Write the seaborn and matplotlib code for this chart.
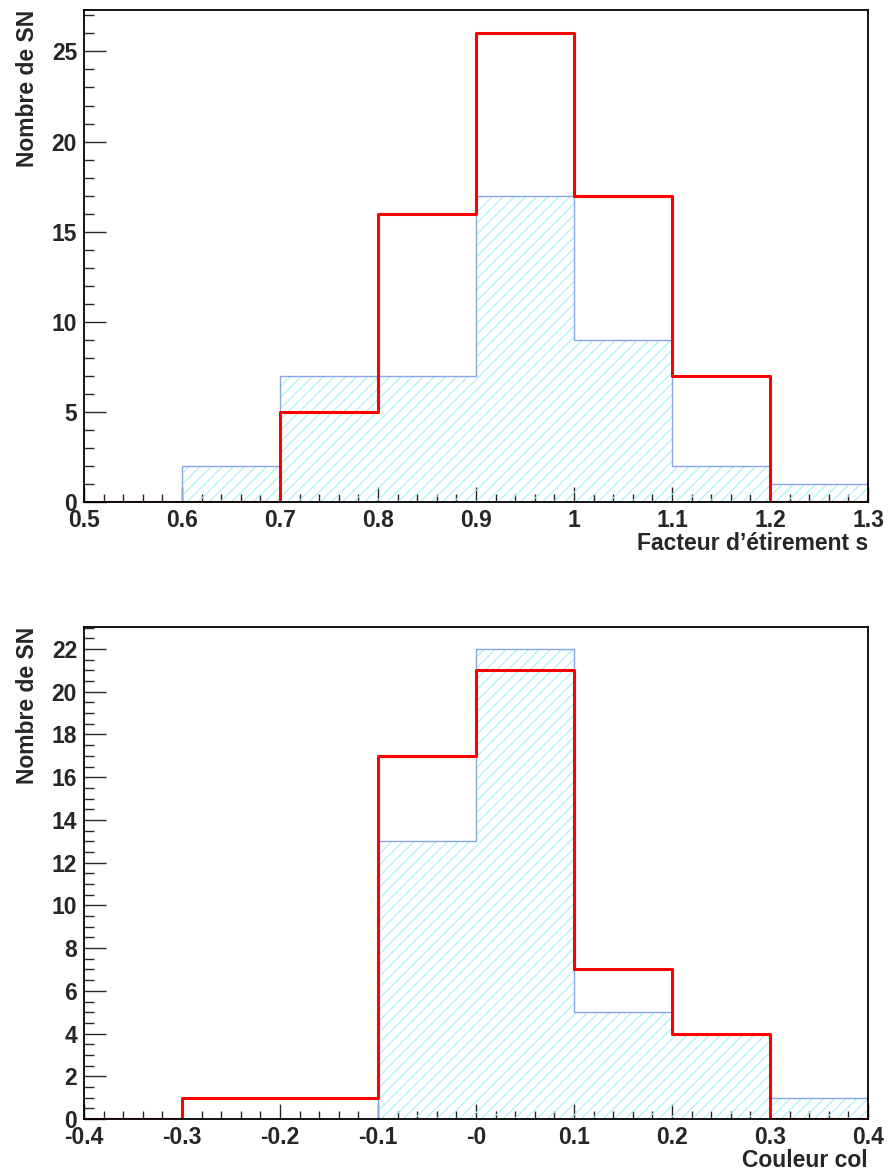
import numpy as np
import pandas as pd
import matplotlib
matplotlib.use('Agg')
import matplotlib.pyplot as plt
import seaborn as sns
from matplotlib.ticker import MultipleLocator

# Bins and counts
s_edges = [0.5, 0.6, 0.7, 0.8, 0.9, 1.0, 1.1, 1.2, 1.3]
s_blue = [0, 2, 7, 7, 17, 9, 2, 1]
s_red = [0, 0, 5, 16, 26, 17, 7, 0]
s_ticklabels = ['0.5', '0.6', '0.7', '0.8', '0.9', '1', '1.1', '1.2', '1.3']

c_edges = [-0.4, -0.3, -0.2, -0.1, 0.0, 0.1, 0.2, 0.3, 0.4]
c_blue = [0, 0, 0, 13, 22, 5, 4, 1]
c_red = [0, 1, 1, 17, 21, 7, 4, 0]
c_ticklabels = ['-0.4', '-0.3', '-0.2', '-0.1', '-0', '0.1', '0.2', '0.3', '0.4']

sns.set_style('white')
plt.rcParams['font.family'] = ['Liberation Sans', 'DejaVu Sans']
plt.rcParams['font.weight'] = 'bold'
plt.rcParams['hatch.linewidth'] = 0.8

red = '#ff0000'
blue_line = '#86a6e4'
cyan = '#a2f2fa'
fs = 16.5

fig = plt.figure(figsize=(8.88, 11.72), dpi=100)
ax1 = fig.add_axes([84/888, 1-502/1172, 784/888, 492/1172])
ax2 = fig.add_axes([84/888, 1-1119/1172, 784/888, 492/1172])


def draw(ax, edges, blue, red_counts, ticklabels, ymax, ymajor, yminor, xlabel):
    centers = [(a + b) / 2 for a, b in zip(edges[:-1], edges[1:])]
    df = pd.DataFrame({'x': centers, 'blue': blue, 'red': red_counts})
    # hatched filled histogram
    sns.histplot(data=df, x='x', weights='blue', bins=list(edges), element='step',
                 fill=True, color=cyan, hatch='///', linewidth=0, ax=ax)
    hatched = ax.collections[-1]
    hatched.set_facecolor('none')
    hatched.set_edgecolor(cyan)
    hatched.set_linewidth(0)
    sns.histplot(data=df, x='x', weights='blue', bins=list(edges), element='step',
                 fill=False, color=blue_line, linewidth=1.0, ax=ax)
    sns.histplot(data=df, x='x', weights='red', bins=list(edges), element='step',
                 fill=False, color=red, linewidth=2.2, ax=ax)
    ax.set_xlim(edges[0], edges[-1])
    ax.set_ylim(0, ymax)
    ax.set_xticks(edges)
    ax.set_xticklabels(ticklabels)
    ax.xaxis.set_minor_locator(MultipleLocator(0.02))
    ax.yaxis.set_major_locator(MultipleLocator(ymajor))
    ax.yaxis.set_minor_locator(MultipleLocator(yminor))
    ax.tick_params(which='both', direction='in', top=False, right=False,
                   bottom=True, left=True, labelsize=fs, width=1.0)
    ax.tick_params(axis='x', which='major', length=11, pad=5)
    ax.tick_params(axis='x', which='minor', length=6)
    ax.tick_params(axis='y', which='major', length=16, pad=5)
    ax.tick_params(axis='y', which='minor', length=7.5)
    for lab in ax.get_xticklabels() + ax.get_yticklabels():
        lab.set_fontweight('bold')
    for sp in ax.spines.values():
        sp.set_linewidth(1.3)
        sp.set_color('black')
    ax.set_xlabel(xlabel, loc='right', fontsize=fs, fontweight='bold', labelpad=0)
    ax.set_ylabel('Nombre de SN', loc='top', fontsize=fs, fontweight='bold', labelpad=9)


draw(ax1, s_edges, s_blue, s_red, s_ticklabels, 27.3, 5, 1, 'Facteur d\u2019\u00e9tirement s')
draw(ax2, c_edges, c_blue, c_red, c_ticklabels, 23.03, 2, 0.5, 'Couleur col')

fig.savefig('out.png', dpi=100)
